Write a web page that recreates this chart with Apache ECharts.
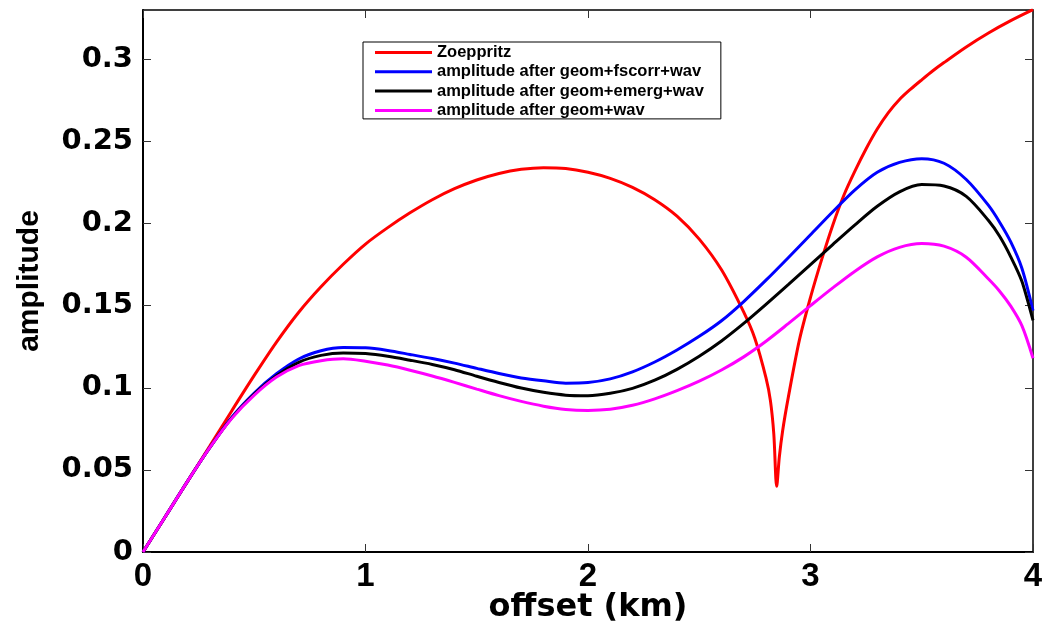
<!DOCTYPE html>
<html>
<head>
<meta charset="utf-8">
<script src="https://cdn.jsdelivr.net/npm/echarts@6/dist/echarts.min.js"></script>
<style>
  html, body { margin: 0; padding: 0; background: #fff; }
  #chart { width: 1046px; height: 624px; }
</style>
</head>
<body>
<div id="chart"></div>
<script>
// offsets (km) shared by the three processed-amplitude curves
const offsets = [0, 0.1, 0.2, 0.3, 0.4, 0.5, 0.6, 0.7, 0.8, 0.9,
  1.0, 1.1, 1.2, 1.3, 1.4, 1.5, 1.6, 1.7, 1.8, 1.9,
  2.0, 2.1, 2.2, 2.3, 2.4, 2.5, 2.6, 2.7, 2.8, 2.9,
  3.0, 3.1, 3.2, 3.3, 3.4, 3.5, 3.6, 3.7, 3.8, 3.85, 3.9, 3.95, 4.0];

const fscorr = [0, 0.0215, 0.043, 0.0635, 0.0822, 0.0968, 0.1085, 0.1175, 0.1225, 0.1245,
  0.1243, 0.1227, 0.1203, 0.1178, 0.115, 0.1118, 0.1087, 0.106, 0.1042, 0.1028,
  0.1032, 0.1054, 0.1097, 0.1157, 0.123, 0.1313, 0.1408, 0.1525, 0.1655, 0.1792,
  0.1932, 0.2072, 0.2205, 0.2312, 0.2372, 0.2395, 0.2367, 0.2268, 0.211, 0.2008, 0.1888, 0.1728, 0.147];

const emerg = [0, 0.0215, 0.043, 0.0635, 0.0818, 0.0962, 0.1073, 0.1155, 0.1197, 0.1212,
  0.1208, 0.1192, 0.1168, 0.1142, 0.111, 0.107, 0.1032, 0.0998, 0.0972, 0.0955,
  0.0952, 0.0966, 0.0996, 0.1046, 0.1112, 0.1192, 0.1285, 0.1392, 0.1508, 0.1628,
  0.175, 0.1872, 0.1992, 0.2105, 0.2193, 0.2237, 0.2228, 0.2165, 0.2018, 0.1922, 0.1797, 0.1648, 0.141];

const geomWav = [0, 0.0215, 0.043, 0.0635, 0.0815, 0.0955, 0.1065, 0.1135, 0.1165, 0.1177,
  0.1162, 0.1138, 0.1107, 0.1072, 0.1033, 0.0992, 0.0952, 0.0917, 0.0888, 0.0868,
  0.0862, 0.0869, 0.0893, 0.0932, 0.0982, 0.104, 0.1108, 0.1188, 0.1283, 0.139,
  0.15, 0.1608, 0.171, 0.1797, 0.1855, 0.1878, 0.1862, 0.1795, 0.1662, 0.1588, 0.1497, 0.1378, 0.118];

// Zoeppritz curve is sampled more densely around the dip
const zoeOffsets = [0, 0.1, 0.2, 0.3, 0.4, 0.5, 0.6, 0.7, 0.8, 0.9,
  1.0, 1.1, 1.2, 1.3, 1.4, 1.5, 1.6, 1.7, 1.8, 1.9,
  2.0, 2.1, 2.2, 2.3, 2.4, 2.5, 2.6, 2.7, 2.75, 2.8,
  2.82, 2.835, 2.848, 2.86, 2.875, 2.9, 2.95, 3.0, 3.05, 3.1,
  3.15, 3.2, 3.25, 3.3, 3.35, 3.4, 3.45, 3.5, 3.55, 3.6,
  3.7, 3.8, 3.9, 4.0];

const zoeppritz = [0, 0.0215, 0.043, 0.0645, 0.0862, 0.1075, 0.1278, 0.146, 0.1615, 0.1752,
  0.1875, 0.1975, 0.2065, 0.2145, 0.2212, 0.2265, 0.2305, 0.233, 0.234, 0.2335,
  0.2312, 0.2275, 0.222, 0.2145, 0.2045, 0.1905, 0.1718, 0.146, 0.13, 0.106,
  0.092, 0.072, 0.04, 0.058, 0.074, 0.094, 0.129, 0.155, 0.178, 0.199,
  0.2172, 0.232, 0.2455, 0.2575, 0.2675, 0.2755, 0.2818, 0.2875, 0.293, 0.298,
  0.3075, 0.316, 0.3235, 0.3302];

const seriesNames = ['Zoeppritz', 'amplitude after geom+fscorr+wav',
  'amplitude after geom+emerg+wav', 'amplitude after geom+wav'];
const seriesColors = ['#ff0000', '#0000ff', '#000000', '#ff00ff'];

function pairs(xs, ys) {
  return xs.map((x, i) => [x, ys[i]]);
}

const chart = echarts.init(document.getElementById('chart'));

// top / right box lines with inward ticks, no labels
const boxAxis = {
  axisLine: { show: true, onZero: false, lineStyle: { color: '#000', width: 1.5 } },
  axisTick: { show: true, inside: true, length: 8, lineStyle: { color: '#333', width: 1 } },
  axisLabel: { show: false },
  splitLine: { show: false }
};

const option = {
  backgroundColor: '#fff',
  animation: false,
  grid: { left: 143, right: 13, top: 10, bottom: 72, outerBoundsMode: 'none' },
  legend: {
    orient: 'vertical',
    left: 363,
    top: 42,
    padding: [2, 17, 0, 12],
    itemGap: 2.3,
    itemWidth: 57,
    itemHeight: 3,
    icon: 'rect',
    borderColor: '#000',
    borderWidth: 1,
    backgroundColor: '#fff',
    textStyle: {
      fontFamily: 'Liberation Sans',
      fontWeight: 'bold',
      fontSize: 16.5,
      lineHeight: 16,
      color: '#000'
    },
    data: seriesNames
  },
  xAxis: [
    {
      type: 'value',
      min: 0,
      max: 4,
      interval: 1,
      name: 'offset (km)',
      nameLocation: 'middle',
      nameGap: 40,
      nameMoveOverlap: false,
      nameTextStyle: {
        fontFamily: 'DejaVu Sans',
        fontWeight: 'bold',
        fontSize: 32,
        color: '#000'
      },
      axisLine: { onZero: false, lineStyle: { color: '#000', width: 2 } },
      axisTick: { inside: true, length: 8, lineStyle: { color: '#333', width: 1 } },
      axisLabel: {
        margin: 8,
        fontFamily: 'Liberation Sans',
        fontWeight: 'bold',
        fontSize: 33,
        color: '#000'
      },
      splitLine: { show: false }
    },
    Object.assign({ type: 'value', position: 'top', min: 0, max: 4, interval: 1 }, boxAxis)
  ],
  yAxis: [
    {
      type: 'value',
      min: 0,
      max: 0.33,
      interval: 0.05,
      name: 'amplitude',
      nameLocation: 'middle',
      nameGap: 98,
      nameRotate: 90,
      nameMoveOverlap: false,
      nameTextStyle: {
        fontFamily: 'Liberation Sans',
        fontWeight: 'bold',
        fontSize: 30,
        color: '#000'
      },
      axisLine: { show: true, onZero: false, lineStyle: { color: '#000', width: 2 } },
      axisTick: { show: true, inside: true, length: 8, lineStyle: { color: '#333', width: 1 } },
      axisLabel: {
        margin: 10,
        showMaxLabel: false,
        fontFamily: 'DejaVu Sans',
        fontWeight: 'bold',
        fontSize: 29,
        color: '#000'
      },
      splitLine: { show: false }
    },
    Object.assign({ type: 'value', position: 'right', min: 0, max: 0.33, interval: 0.05 }, boxAxis)
  ],
  series: [
    { name: seriesNames[0], data: pairs(zoeOffsets, zoeppritz) },
    { name: seriesNames[1], data: pairs(offsets, fscorr) },
    { name: seriesNames[2], data: pairs(offsets, emerg) },
    { name: seriesNames[3], data: pairs(offsets, geomWav) }
  ].map((s, i) => Object.assign({
    type: 'line',
    showSymbol: false,
    symbol: 'none',
    smooth: 0.3,
    clip: true,
    color: seriesColors[i],
    lineStyle: { color: seriesColors[i], width: 3 }
  }, s))
};

chart.setOption(option);
</script>
</body>
</html>
